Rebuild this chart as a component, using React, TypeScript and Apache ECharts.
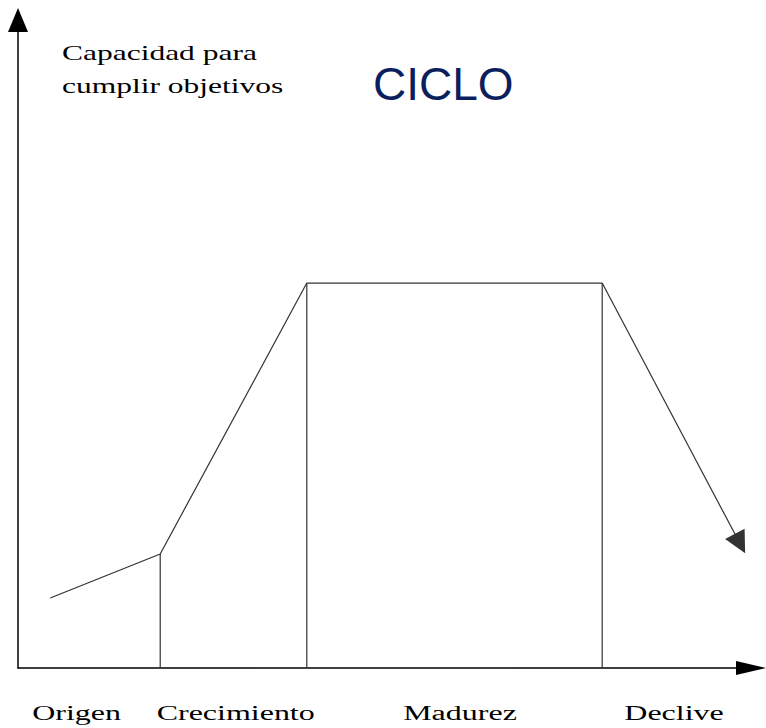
import React, { useEffect, useRef } from "react";
import * as echarts from "echarts";

// Curve of the cycle (x: time 0..100, y: capacity 0..100)
const curveX = [4.4, 19.4, 39.4, 79.7];
const curveY = [10.8, 17.6, 59.4, 59.4];
// End of the declining arrow (arrowhead centre)
const declineEnd = [98.5, 19.2];
// Vertical dividers between stages
const dividerX = [19.4, 39.4, 79.7];
const dividerTop = [17.6, 59.4, 59.4];
// Stage labels under the x axis
const stageLabels = ["Origen", "Crecimiento", "Madurez", "Declive"];
const stageLabelX = [8.0, 29.7, 60.3, 89.5];
// Texts
const yTitleLines = ["Capacidad para", "cumplir objetivos"];
const chartTitle = "CICLO";

const SERIF = '"Liberation Serif", "Times New Roman", serif';
const SANS = '"Liberation Sans", Arial, sans-serif';

export default function App() {
  const ref = useRef<HTMLDivElement>(null);

  useEffect(() => {
    document.body.style.margin = "0";
    if (!ref.current) return;
    const chart = echarts.init(ref.current, undefined, { renderer: "svg" });

    const lineColor = "#333";
    const dividerSeries = dividerX.map((x, i) => ({
      type: "line",
      data: [
        [x, 0],
        [x, dividerTop[i]],
      ],
      showSymbol: false,
      symbol: "none",
      silent: true,
      lineStyle: { color: lineColor, width: 1.2 },
    }));

    chart.setOption({
      animation: false,
      backgroundColor: "#fff",
      grid: { left: 18, right: 15, top: 20, bottom: 60, containLabel: false },
      xAxis: {
        type: "value",
        min: 0,
        max: 100,
        axisLine: {
          show: true,
          symbol: ["none", "triangle"],
          symbolSize: [14, 30],
          lineStyle: { color: "#000", width: 1.5 },
        },
        axisTick: { show: false },
        axisLabel: { show: false },
        splitLine: { show: false },
      },
      yAxis: {
        type: "value",
        min: 0,
        max: 100,
        axisLine: {
          show: true,
          symbol: ["none", "triangle"],
          symbolSize: [20, 24],
          lineStyle: { color: "#000", width: 1.5 },
        },
        axisTick: { show: false },
        axisLabel: { show: false },
        splitLine: { show: false },
      },
      series: [
        {
          type: "line",
          data: curveX.map((x, i) => [x, curveY[i]]),
          showSymbol: false,
          symbol: "none",
          silent: true,
          lineStyle: { color: lineColor, width: 1.2 },
          markLine: {
            silent: true,
            symbol: ["none", "triangle"],
            symbolSize: 22,
            label: { show: false },
            lineStyle: { color: lineColor, width: 1.2, type: "solid" },
            itemStyle: { color: "#000" },
            data: [
              [
                { coord: [curveX[curveX.length - 1], curveY[curveY.length - 1]] },
                { coord: declineEnd, itemStyle: { color: "#000" } },
              ],
            ],
          },
        },
        ...dividerSeries,
      ],
    });

    const labelY = chart.convertToPixel({ gridIndex: 0 }, [0, 0])[1] + 45;
    const stageTexts = stageLabels.map((t, i) => {
      const px = chart.convertToPixel({ gridIndex: 0 }, [stageLabelX[i], 0])[0];
      return {
        type: "text",
        x: px,
        y: labelY,
        scaleX: 1.6,
        silent: true,
        style: {
          text: t,
          font: `20px ${SERIF}`,
          fill: "#000",
          textAlign: "center",
          textVerticalAlign: "middle",
        },
      };
    });

    chart.setOption({
      graphic: [
        ...yTitleLines.map((t, i) => ({
          type: "text",
          x: 62,
          y: 53 + i * 33,
          scaleX: 1.5,
          silent: true,
          style: {
            text: t,
            font: `21px ${SERIF}`,
            fill: "#000",
            textAlign: "left",
            textVerticalAlign: "middle",
          },
        })),
        {
          type: "text",
          x: 373,
          y: 84,
          silent: true,
          style: {
            text: chartTitle,
            font: `46px ${SANS}`,
            fill: "#0b1f5e",
            textAlign: "left",
            textVerticalAlign: "middle",
          },
        },
        ...stageTexts,
      ],
    });

    return () => chart.dispose();
  }, []);

  return <div ref={ref} style={{ width: 766, height: 728 }} />;
}
